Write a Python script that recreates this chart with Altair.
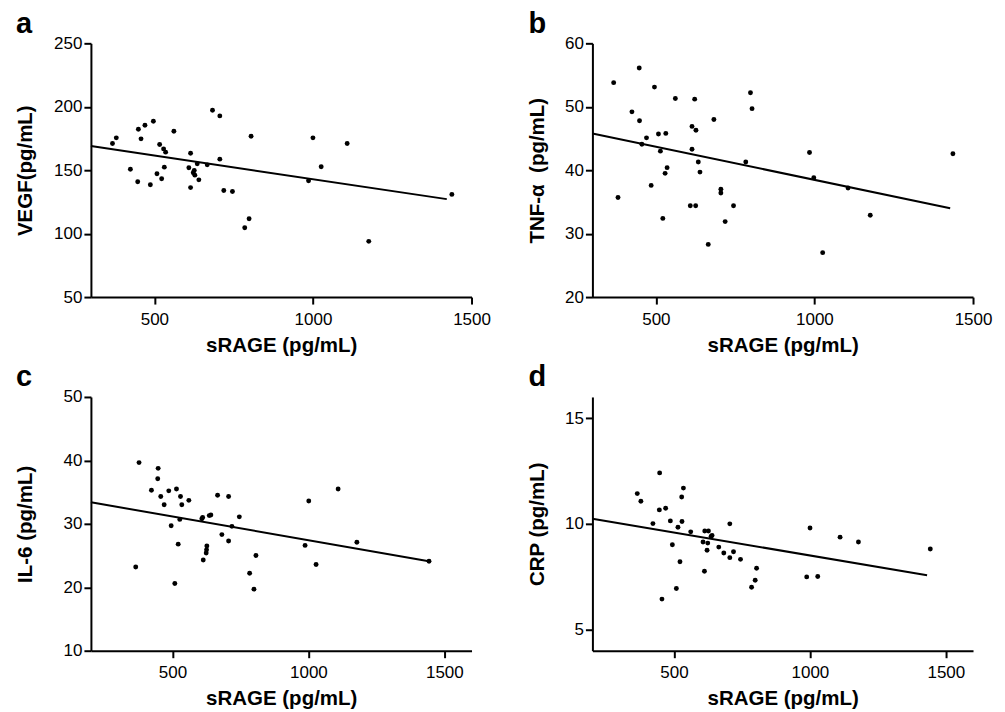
import altair as alt
import pandas as pd

# ---- data ----
srage_a = [368, 380, 424.5, 447.5, 449.7, 458, 470.4, 487.4, 496.9, 508.2, 516.7, 523, 529.2, 531.4, 535.5,
           561.6, 608.8, 614.2, 614.2, 622.6, 625.8, 627.7, 635.2, 640.3, 666.7, 683.3, 706.4, 706.4, 718.9,
           746.2, 785, 798.7, 805, 986.2, 1000, 1026, 1107.9, 1176, 1438]
vegf = [171, 175.5, 150.8, 140.9, 182.3, 174.7, 185.4, 138.5, 188.6, 147.2, 170.2, 143.2, 166.8, 152.4, 164.2,
        180.7, 151.9, 163.3, 136.3, 148, 149.8, 146.1, 155, 142.4, 154.2, 197.2, 192.8, 158.7, 134,
        133.2, 104.6, 111.7, 176.8, 141.7, 175.5, 152.7, 171, 93.9, 130.9]
fit_a_x = [300, 1422]
fit_a_y = [169, 127.2]

srage_b = [367, 380.7, 424.6, 447.6, 448.5, 456, 470.5, 485.2, 495.6, 508.2, 514.4, 522, 529.2, 531.4, 535.5,
           561.5, 608.6, 614, 614, 622.4, 625.6, 626.5, 633.8, 639.1, 665.2, 683, 705, 705, 718.5, 744.9,
           783.5, 798.3, 803.3, 984.5, 998, 1026, 1106, 1176, 1436.6]
tnf = [53.8, 35.7, 49.2, 56.1, 47.8, 44.1, 45.1, 37.6, 53.1, 45.7, 43, 32.4, 39.5, 45.8, 40.4,
       51.3, 34.4, 46.9, 43.3, 51.2, 34.4, 46.3, 41.3, 39.7, 28.3, 48, 37, 36.4, 31.9, 34.4,
       41.3, 52.2, 49.7, 42.8, 38.8, 27, 37.2, 32.9, 42.6]
fit_b_x = [300, 1428]
fit_b_y = [45.8, 34.0]

srage_c = [364.8, 377, 422.6, 445.8, 447.3, 456.9, 469.4, 486.4, 495.2, 508.6, 514.7, 521, 526.9, 529.5, 534.3,
           560.2, 608, 611, 613.2, 624, 625.3, 626.4, 635.3, 641.2, 665.9, 681.7, 706.4, 706.4, 718.6, 745.9,
           783.8, 799.7, 807, 987.7, 1001.3, 1028.2, 1109.3, 1178.2, 1443.6]
il6 = [23.2, 39.65, 35.3, 37.1, 38.75, 34.3, 33, 35.2, 29.7, 20.6, 35.5, 26.8, 30.7, 34.3, 33,
       33.7, 30.8, 31.0, 24.3, 25.4, 25.9, 26.5, 31.3, 31.4, 34.5, 28.3, 34.3, 27.3, 29.6, 31.1,
       22.2, 19.7, 25, 26.6, 33.6, 23.6, 35.5, 27.1, 24.1]
fit_c_x = [200, 1443]
fit_c_y = [33.4, 24.1]

srage_d = [365, 378.3, 422.6, 446.2, 447.3, 455.8, 469.4, 486.7, 494.1, 508.8, 514.7, 522.1, 528.4, 529.5, 534.7,
           561.6, 606.9, 612.1, 613.2, 621.7, 624.3, 626.8, 636.4, 640.1, 664.8, 683.3, 705.4, 705.4, 719.0, 744.8,
           785.4, 798.7, 803.8, 988.2, 1000.4, 1028.8, 1111.0, 1178.5, 1442.8]
crp = [11.43, 11.07, 10.01, 10.66, 12.41, 6.44, 10.74, 10.14, 9.01, 6.94, 9.84, 8.21, 11.27, 10.11, 11.69,
       9.62, 9.14, 7.76, 9.66, 8.75, 9.09, 9.66, 9.40, 9.45, 8.90, 8.62, 10.0, 8.40, 8.68, 8.32,
       7.0, 7.33, 7.90, 7.49, 9.80, 7.51, 9.37, 9.14, 8.81]
fit_d_x = [200, 1431]
fit_d_y = [10.24, 7.57]

x_ticks = [500, 1000, 1500]
FONT = "Liberation Sans"


def panel(letter, lx, xs, ys, fx, fy, xdom, ydom, yticks, ytitle, ytp):
    pts = pd.DataFrame({"x": xs, "y": ys})
    fit = pd.DataFrame({"x": fx, "y": fy})
    xsc = alt.Scale(domain=xdom, nice=False, zero=False)
    ysc = alt.Scale(domain=ydom, nice=False, zero=False)
    xax = alt.Axis(values=x_ticks, format="d", title="sRAGE (pg/mL)", grid=False, titlePadding=8,
                   labelPadding=7, labelFlush=False)
    yax = alt.Axis(values=yticks, format="d", title=ytitle, grid=False, titlePadding=ytp,
                   labelPadding=2, labelFlush=False)
    p = alt.Chart(pts).mark_circle(size=24, color="black", opacity=1).encode(
        x=alt.X("x:Q", scale=xsc, axis=xax),
        y=alt.Y("y:Q", scale=ysc, axis=yax),
    )
    l = alt.Chart(fit).mark_line(color="black", strokeWidth=2).encode(
        x=alt.X("x:Q", scale=xsc, axis=xax),
        y=alt.Y("y:Q", scale=ysc, axis=yax),
    )
    t = alt.Chart(pd.DataFrame({"t": [letter]})).mark_text(
        font=FONT, fontSize=29, fontWeight="bold", align="left", baseline="alphabetic", color="black"
    ).encode(text="t:N", x=alt.value(lx), y=alt.value(-10.5))
    return alt.layer(p, l, t).properties(width=381, height=254)


pa = panel("a", -75, srage_a, vegf, fit_a_x, fit_a_y, [300, 1500], [50, 250], [50, 100, 150, 200, 250],
           "VEGF(pg/mL)", 18)
pb = panel("b", -64, srage_b, tnf, fit_b_x, fit_b_y, [300, 1500], [20, 60], [20, 30, 40, 50, 60],
           "TNF-\u03b1\u00a0 (pg/mL)", 17)
pc = panel("c", -75, srage_c, il6, fit_c_x, fit_c_y, [200, 1600], [10, 50], [10, 20, 30, 40, 50],
           "IL-6 (pg/mL)", 28)
pd_ = panel("d", -64, srage_d, crp, fit_d_x, fit_d_y, [200, 1600], [4, 16], [5, 10, 15],
            "CRP (pg/mL)", 17)

chart = alt.concat(pa, pb, pc, pd_, columns=2, spacing={"row": 100, "column": 121}, bounds="flush").properties(
    padding={"left": 7, "top": 1, "right": 5, "bottom": 5}
).configure_axis(
    domainColor="black", domainWidth=2, tickColor="black", tickWidth=2, tickSize=7,
    labelFont=FONT, labelFontSize=17, labelColor="black",
    titleFont=FONT, titleFontSize=20.5, titleFontWeight="bold", titleColor="black",
).configure_view(stroke=None)

chart.save("out.html", embed_options={"renderer": "svg", "actions": False})
